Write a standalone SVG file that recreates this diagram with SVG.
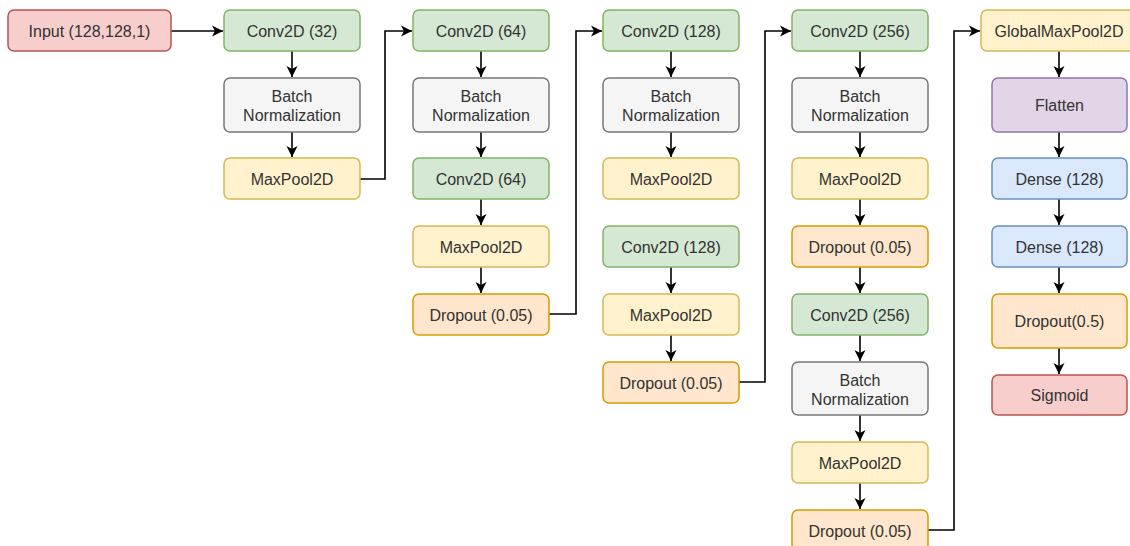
<svg xmlns="http://www.w3.org/2000/svg" width="1130" height="546" viewBox="0 0 1130 546">
<defs>
<style>
.n{stroke-width:1.5}
.red{fill:#f8cecc;stroke:#b85450}
.grn{fill:#d5e8d4;stroke:#82b366}
.gry{fill:#f5f5f5;stroke:#777777}
.yel{fill:#fff2cc;stroke:#d6b656}
.org{fill:#ffe6cc;stroke:#d79b00}
.pur{fill:#e1d5e7;stroke:#9673a6}
.blu{fill:#dae8fc;stroke:#6c8ebf}
text{font-family:"Liberation Sans",Arial,sans-serif;font-size:16px;fill:#333333;text-anchor:middle;dominant-baseline:central}
.c{fill:none;stroke:#000000;stroke-width:1.6}
</style>
<marker id="ah" markerUnits="userSpaceOnUse" markerWidth="14" markerHeight="14" viewBox="0 0 14 14" refX="12" refY="7" orient="auto">
<path d="M1,1.5 L12,7 L1,12.5 L4,7 Z" fill="#000000"/>
</marker>
</defs>
<rect width="1130" height="546" fill="#ffffff"/>
<g id="connectors">
<path class="c" d="M171,31 H223" marker-end="url(#ah)"/>
<path class="c" d="M292,51 V77" marker-end="url(#ah)"/>
<path class="c" d="M292,132 V157" marker-end="url(#ah)"/>
<path class="c" d="M360,179 H385 V31 H412" marker-end="url(#ah)"/>
<path class="c" d="M481,51 V77" marker-end="url(#ah)"/>
<path class="c" d="M481,132 V157" marker-end="url(#ah)"/>
<path class="c" d="M481,199 V225" marker-end="url(#ah)"/>
<path class="c" d="M481,267 V293" marker-end="url(#ah)"/>
<path class="c" d="M549,314 H576 V31 H602" marker-end="url(#ah)"/>
<path class="c" d="M671,51 V77" marker-end="url(#ah)"/>
<path class="c" d="M671,132 V157" marker-end="url(#ah)"/>
<path class="c" d="M671,267 V293" marker-end="url(#ah)"/>
<path class="c" d="M671,335 V361" marker-end="url(#ah)"/>
<path class="c" d="M739,382 H765 V31 H791" marker-end="url(#ah)"/>
<path class="c" d="M860,51 V77" marker-end="url(#ah)"/>
<path class="c" d="M860,132 V157" marker-end="url(#ah)"/>
<path class="c" d="M860,199 V225" marker-end="url(#ah)"/>
<path class="c" d="M860,267 V293" marker-end="url(#ah)"/>
<path class="c" d="M860,335 V361" marker-end="url(#ah)"/>
<path class="c" d="M860,415 V441" marker-end="url(#ah)"/>
<path class="c" d="M860,483 V509" marker-end="url(#ah)"/>
<path class="c" d="M928,530 H954 V31 H980" marker-end="url(#ah)"/>
<path class="c" d="M1059,51 V77" marker-end="url(#ah)"/>
<path class="c" d="M1059,132 V157" marker-end="url(#ah)"/>
<path class="c" d="M1059,199 V225" marker-end="url(#ah)"/>
<path class="c" d="M1059,267 V293" marker-end="url(#ah)"/>
<path class="c" d="M1059,348 V374" marker-end="url(#ah)"/>
</g>
<g id="input"><rect class="n red" x="8" y="10" width="163" height="41" rx="6"/><text x="89.5" y="31">Input (128,128,1)</text></g>
<g id="conv32"><rect class="n grn" x="224" y="10" width="136" height="41" rx="6"/><text x="292" y="31">Conv2D (32)</text></g>
<g id="bn1"><rect class="n gry" x="224" y="78" width="136" height="54" rx="6"/><text x="292" y="96">Batch</text><text x="292" y="115">Normalization</text></g>
<g id="mp1"><rect class="n yel" x="224" y="158" width="136" height="41" rx="6"/><text x="292" y="179">MaxPool2D</text></g>

<g id="conv64a"><rect class="n grn" x="413" y="10" width="136" height="41" rx="6"/><text x="481" y="31">Conv2D (64)</text></g>
<g id="bn2"><rect class="n gry" x="413" y="78" width="136" height="54" rx="6"/><text x="481" y="96">Batch</text><text x="481" y="115">Normalization</text></g>
<g id="conv64b"><rect class="n grn" x="413" y="158" width="136" height="41" rx="6"/><text x="481" y="179">Conv2D (64)</text></g>
<g id="mp2"><rect class="n yel" x="413" y="226" width="136" height="41" rx="6"/><text x="481" y="247">MaxPool2D</text></g>
<g id="do2"><rect class="n org" x="413" y="294" width="136" height="41" rx="6"/><text x="481" y="315">Dropout (0.05)</text></g>

<g id="conv128a"><rect class="n grn" x="603" y="10" width="136" height="41" rx="6"/><text x="671" y="31">Conv2D (128)</text></g>
<g id="bn3"><rect class="n gry" x="603" y="78" width="136" height="54" rx="6"/><text x="671" y="96">Batch</text><text x="671" y="115">Normalization</text></g>
<g id="mp3a"><rect class="n yel" x="603" y="158" width="136" height="41" rx="6"/><text x="671" y="179">MaxPool2D</text></g>
<g id="conv128b"><rect class="n grn" x="603" y="226" width="136" height="41" rx="6"/><text x="671" y="247">Conv2D (128)</text></g>
<g id="mp3b"><rect class="n yel" x="603" y="294" width="136" height="41" rx="6"/><text x="671" y="315">MaxPool2D</text></g>
<g id="do3"><rect class="n org" x="603" y="362" width="136" height="41" rx="6"/><text x="671" y="383">Dropout (0.05)</text></g>

<g id="conv256a"><rect class="n grn" x="792" y="10" width="136" height="41" rx="6"/><text x="860" y="31">Conv2D (256)</text></g>
<g id="bn4a"><rect class="n gry" x="792" y="78" width="136" height="54" rx="6"/><text x="860" y="96">Batch</text><text x="860" y="115">Normalization</text></g>
<g id="mp4a"><rect class="n yel" x="792" y="158" width="136" height="41" rx="6"/><text x="860" y="179">MaxPool2D</text></g>
<g id="do4a"><rect class="n org" x="792" y="226" width="136" height="41" rx="6"/><text x="860" y="247">Dropout (0.05)</text></g>
<g id="conv256b"><rect class="n grn" x="792" y="294" width="136" height="41" rx="6"/><text x="860" y="315">Conv2D (256)</text></g>
<g id="bn4b"><rect class="n gry" x="792" y="362" width="136" height="53" rx="6"/><text x="860" y="380">Batch</text><text x="860" y="399">Normalization</text></g>
<g id="mp4b"><rect class="n yel" x="792" y="442" width="136" height="41" rx="6"/><text x="860" y="463">MaxPool2D</text></g>
<g id="do4b"><rect class="n org" x="792" y="510" width="136" height="41" rx="6"/><text x="860" y="531">Dropout (0.05)</text></g>

<g id="gmp"><rect class="n yel" x="981" y="10" width="158" height="41" rx="6"/><text x="1059" y="31">GlobalMaxPool2D</text></g>
<g id="flatten"><rect class="n pur" x="992" y="78" width="135" height="54" rx="6"/><text x="1059.5" y="105">Flatten</text></g>
<g id="dense1"><rect class="n blu" x="992" y="158" width="135" height="41" rx="6"/><text x="1059.5" y="179">Dense (128)</text></g>
<g id="dense2"><rect class="n blu" x="992" y="226" width="135" height="41" rx="6"/><text x="1059.5" y="247">Dense (128)</text></g>
<g id="do5"><rect class="n org" x="992" y="294" width="135" height="54" rx="6"/><text x="1059.5" y="321">Dropout(0.5)</text></g>
<g id="sigmoid"><rect class="n red" x="992" y="375" width="135" height="40" rx="6"/><text x="1059.5" y="395">Sigmoid</text></g>
</svg>
